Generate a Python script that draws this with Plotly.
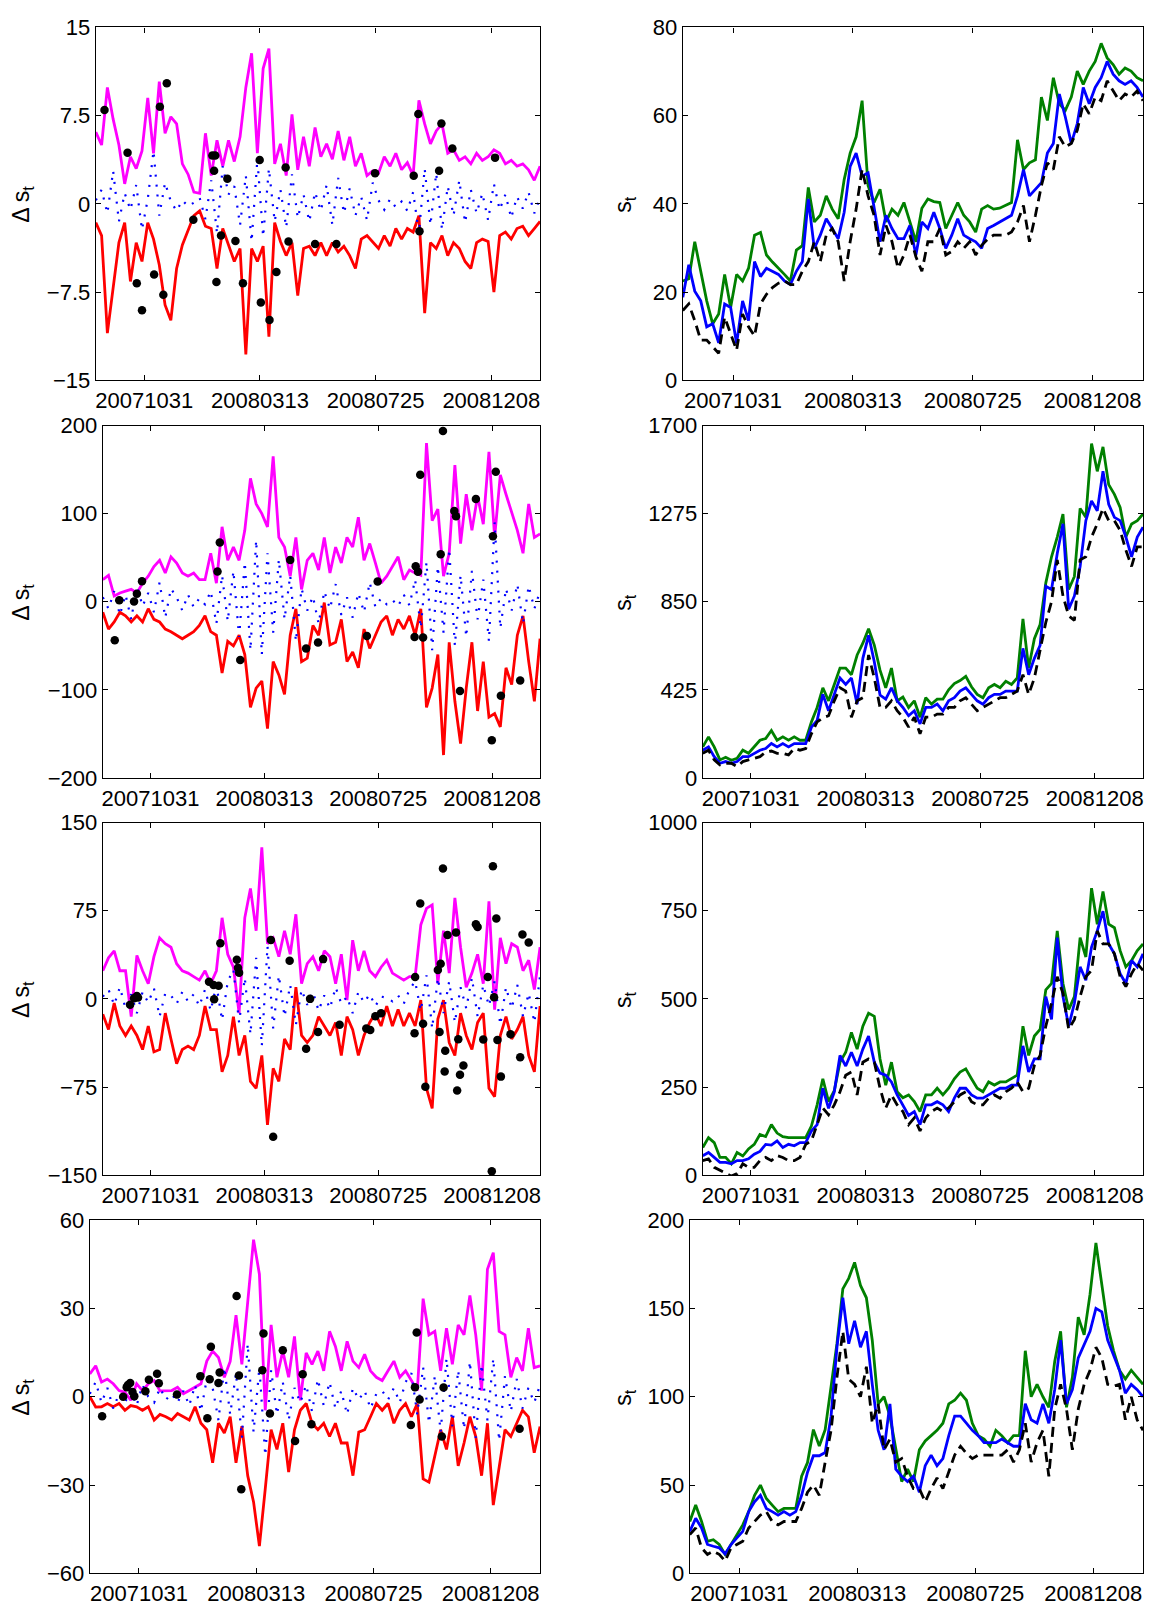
import plotly.graph_objects as go

W, H = 1149, 1616
N = 78
t = list(range(N))
tick_pos = [8.4, 28.45, 48.5, 68.55]
tick_labels = ["20071031", "20080313", "20080725", "20081208"]

# ---------------- Row 1 ----------------
u1 = [6.1, 5.0, 9.9, 7.2, 5.0, 1.7, 4.0, 3.0, 4.5, 9.0,
      4.3, 10.4, 6.0, 7.4, 6.8, 3.4, 2.5, 1.0, 0.9, 6.0,
      2.4, 5.4, 3.2, 5.4, 3.6, 5.7, 9.9, 12.8, 4.3, 11.5,
      13.2, 3.4, 5.1, 2.4, 7.6, 2.9, 5.7, 3.2, 6.5, 4.0,
      5.1, 3.8, 6.2, 3.7, 5.7, 3.2, 4.3, 2.4, 2.8, 2.6,
      4.0, 3.2, 4.3, 2.9, 3.5, 2.4, 8.8, 6.8, 5.1, 6.2,
      6.8, 4.3, 4.6, 3.7, 4.0, 3.4, 4.3, 3.7, 4.0, 4.6,
      4.3, 3.4, 3.7, 3.2, 3.4, 2.9, 2.0, 3.2]
l1 = [-1.6, -2.7, -11.0, -6.9, -3.3, -1.6, -6.6, -3.3, -4.9, -1.6,
      -3.0, -5.2, -8.6, -9.9, -5.5, -3.5, -2.2, -1.0, -0.6, -1.9,
      -2.1, -5.5, -2.1, -3.6, -4.9, -3.8, -12.8, -3.8, -4.9, -3.6,
      -11.3, -1.6, -3.2, -4.4, -3.3, -7.8, -3.8, -3.6, -4.4, -3.3,
      -4.4, -3.3, -4.1, -3.6, -4.4, -5.5, -3.0, -2.7, -3.3, -3.8,
      -2.7, -3.6, -2.1, -3.0, -2.1, -2.4, -1.0, -9.3, -3.3, -3.8,
      -2.7, -4.4, -3.3, -3.8, -4.9, -5.5, -3.3, -3.0, -3.2, -7.5,
      -2.7, -2.4, -3.0, -2.1, -1.9, -2.7, -2.1, -1.5]
m1 = [0.3, 1.2, -0.8, 2.8, -1.5, 0.9, -0.5, 1.6, -2.2, 0.4,
      4.5, -1.0, 1.8, 0.2, -0.6, 0.3, -0.2, 0.1, 0.5, -1.3,
      2.0, -2.5, 3.2, 0.8, 1.5, -1.8, 2.4, -3.2, 3.8, -2.8,
      3.0, -1.5, 1.2, -2.0, 2.5, -1.2, 0.8, -1.5, 1.0, -0.6,
      1.6, -1.8, 2.2, -0.8, 1.3, -1.0, 0.6, -1.4, 1.8, 0.3,
      -0.5, 0.4, -0.3, 0.2, -0.6, 1.0, -2.5, 3.0, -1.8, 2.6,
      -2.2, 1.5, -1.0, 2.0, -1.6, 1.2, -0.8, 0.9, -1.4, 1.7,
      -0.5, 0.8, -1.2, 0.6, -0.4, 1.0, -0.8, 0.5]
dx1 = [1.5, 5.5, 7.1, 8.0, 10.1, 11.1, 11.7, 12.3, 16.9, 20.2, 20.7, 20.5, 20.9, 21.7, 22.8,
       24.2, 25.5, 28.4, 28.6, 30.1, 31.3, 32.9, 33.4, 38.0, 41.7, 48.4, 55.1, 55.9, 56.1, 59.5,
       59.9, 61.8, 69.2]
dy1 = [7.98, 4.35, -6.75, -9.05, -6.0, 8.26, -7.73, 10.25, -1.36, 4.12, 4.12, 2.81, -6.64, -2.70, 2.14,
       -3.17, -6.75, 3.73, -8.40, -9.88, -5.80, 3.09, -3.20, -3.42, -3.42, 2.61, 2.39, 7.65, -2.34, 2.81,
       6.84, 4.71, 3.93]
g1 = [22.5, 23.0, 31.4, 24.7, 18.0, 12.8, 15.0, 24.0, 16.5, 24.0,
      22.5, 25.4, 32.9, 33.5, 28.4, 26.8, 25.5, 24.0, 22.5, 29.5,
      30.5, 43.7, 35.9, 37.4, 41.8, 38.8, 36.6, 45.5, 51.5, 55.2,
      63.4, 44.1, 40.3, 43.3, 35.9, 38.8, 37.4, 40.3, 35.9, 31.4,
      39.0, 41.1, 40.5, 40.3, 34.4, 37.4, 40.3, 37.4, 35.9, 33.6,
      38.8, 39.6, 38.8, 39.0, 39.6, 40.3, 54.5, 47.8, 49.3, 50.0,
      64.2, 58.9, 68.6, 62.7, 61.2, 64.2, 70.1, 67.1, 70.1, 72.3,
      76.4, 73.1, 71.6, 69.4, 70.8, 70.1, 68.6, 67.9]
b1 = [18.8, 26.2, 20.2, 18.0, 12.1, 12.8, 8.5, 17.3, 16.5, 8.3,
      18.0, 13.5, 26.9, 23.5, 25.4, 24.7, 24.0, 22.5, 21.7, 24.7,
      26.9, 41.1, 29.9, 32.9, 36.6, 34.4, 32.1, 38.1, 48.5, 51.5,
      46.3, 47.0, 38.8, 31.4, 37.4, 34.4, 32.1, 32.1, 35.1, 28.4,
      35.9, 34.4, 38.1, 34.4, 29.9, 32.9, 36.6, 32.9, 32.1, 31.4,
      29.9, 34.4, 35.1, 35.9, 36.6, 37.4, 41.8, 47.8, 41.8, 43.3,
      44.8, 51.5, 53.7, 64.9, 59.7, 53.7, 58.2, 66.4, 62.7, 66.4,
      68.6, 72.3, 69.4, 67.9, 67.1, 67.9, 66.4, 64.2]
k1 = [15.8, 17.3, 13.5, 9.1, 9.1, 7.6, 6.1, 14.3, 10.6, 6.8,
      15.0, 12.1, 10.0, 17.3, 19.5, 21.0, 22.0, 22.5, 21.7, 21.7,
      24.7, 26.9, 31.4, 26.9, 32.9, 34.4, 31.4, 22.5, 31.4, 38.8,
      47.8, 41.8, 37.4, 28.4, 35.1, 31.4, 25.4, 28.4, 32.9, 28.0,
      24.7, 31.4, 31.4, 34.4, 28.4, 29.2, 31.4, 29.9, 31.4, 28.4,
      30.6, 32.0, 32.9, 32.9, 32.9, 33.6, 35.9, 39.6, 31.4, 37.4,
      44.1, 49.3, 47.8, 55.2, 52.9, 53.7, 56.7, 62.7, 60.4, 64.2,
      63.4, 67.9, 65.6, 63.4, 64.9, 64.2, 65.6, 63.4]

# ---------------- Row 2 ----------------
u2 = [25, 30, 6.5, 10, 12, 14, 10, 21, 29, 40,
      47, 32.6, 51, 44, 32.6, 29, 32.6, 25, 25, 55,
      21, 85, 47, 62, 47, 81, 140, 111, 100, 85,
      165, 73, 62, 29, 73, 14, 47, 55, 36, 73,
      32.6, 62, 44, 73, 62, 96, 47, 66, 44, 21,
      29, 40, 51, 25, 36, 32.6, 30, 180, 92, 105,
      29, 55, 155, 66, 122, 81, 120, 88, 170, 73,
      144, 122, 100, 81, 55, 111, 73, 77]
l2 = [-12, -31, -23, -12, -16, -23, -16, -23, -8, -20,
      -23, -31, -34, -38, -42, -38, -34, -27, -16, -34,
      -38, -81, -45, -50, -38, -60, -120, -98, -90, -144,
      -68, -83, -105, -38, -8, -68, -64, -27, -38, -1,
      -49, -46, -20, -68, -57, -75, -31, -53, -38, -23,
      -16, -38, -20, -31, -16, -38, -8, -120, -98, -60,
      -174, -46, -113, -161, -98, -46, -124, -68, -131, -127,
      -142, -75, -94, -38, -16, -68, -113, -42]
m2 = [5, -8, 12, -15, 8, -20, 18, -5, 10, -12,
      22, -18, 15, 5, -10, 8, -6, 4, -3, 12,
      -25, 30, -22, 35, -40, 45, -55, 70, -60, 55,
      -35, 48, -20, 30, -45, 15, -10, 6, -25, 12,
      -8, 20, -15, 5, -18, 10, -12, 22, -6, 4,
      -3, 2, -5, 8, -4, 25, -30, 45, -55, 40,
      -35, 60, -50, 30, -40, 35, -20, 25, -45, 90,
      -30, 15, -10, 20, -25, 18, -8, 12]
dx2 = [2.1, 2.9, 5.5, 6.0, 6.9, 20.2, 20.6, 24.2, 33.0, 35.8, 37.9, 46.5, 48.4, 54.9, 55.1,
       55.5, 55.9, 56.4, 59.5, 59.9, 61.9, 62.2, 62.9, 65.7, 68.5, 68.7, 69.2, 70.1, 73.5]
dy2 = [-43.7, 1.7, 0.2, 9.1, 23.3, 34.4, 67.2, -66.0, 47.4, -53.0, -46.3, -38.9, 22.9, -40.0, 40.4,
       34.0, 144.2, -40.7, 53.8, 193.7, 102.9, 96.9, -101.4, 116.7, -157.2, 74.2, 147.5, -106.6, -89.5]
g2 = [150, 198, 150, 87, 100, 85, 95, 134, 119, 150,
      182, 190, 229, 182, 198, 182, 198, 182, 182, 270,
      340, 435, 372, 451, 530, 530, 498, 593, 650, 720,
      641, 520, 435, 530, 372, 390, 340, 372, 293, 387,
      356, 380, 380, 425, 455, 470, 490, 440, 403, 387,
      435, 451, 435, 466, 451, 482, 767, 530, 672, 740,
      941, 1067, 1162, 1273, 909, 972, 1300, 1257, 1613, 1479,
      1597, 1415, 1368, 1305, 1162, 1225, 1241, 1273]
b2 = [134, 150, 103, 71, 79, 71, 79, 103, 103, 119,
      134, 142, 166, 150, 166, 150, 166, 166, 166, 245,
      277, 403, 324, 403, 482, 451, 482, 356, 577, 688,
      561, 400, 380, 435, 372, 340, 300, 324, 261, 340,
      340, 356, 324, 372, 387, 419, 435, 403, 372, 356,
      387, 403, 403, 419, 419, 419, 625, 498, 577, 640,
      925, 909, 1083, 1226, 814, 878, 1020, 1241, 1336, 1289,
      1479, 1320, 1257, 1241, 1162, 1067, 1162, 1210]
k2 = [119, 134, 87, 63, 71, 71, 55, 79, 87, 95,
      103, 125, 130, 119, 119, 111, 142, 134, 142, 213,
      270, 290, 300, 372, 435, 419, 293, 372, 387, 593,
      482, 340, 340, 372, 324, 293, 245, 293, 213, 293,
      293, 308, 308, 340, 340, 372, 387, 356, 324, 340,
      356, 372, 387, 387, 403, 419, 498, 403, 482, 625,
      751, 850, 1052, 878, 782, 760, 1052, 1067, 1162, 1226,
      1300, 1241, 1241, 1194, 1099, 1020, 1115, 1115]

# ---------------- Row 3 ----------------
u3 = [24, 35, 41, 24, 24, -15, 37, 24, 13, 36,
      52, 47, 44, 30, 24, 22, 19, 16, 24, 13,
      24, 69, 38, 27, -12, 69, 94, 58, 129, 47,
      52, 36, 58, 38, 72, 13, 30, 36, 24, 41,
      36, 13, 38, -1, 50, 24, 41, 24, 19, 27,
      33, 22, 19, 16, 19, 19, 63, 77, 80, 13,
      58, 22, 86, 44, 10, 22, 38, 13, 83, -9,
      52, 30, 47, 44, 24, 33, 8, 44]
l3 = [-13, -26, -3.5, -23, -31, -23, -31, -43, -23, -45,
      -43, -12, -34, -55, -43, -40, -43, -31, -6, -26,
      -26, -62, -48, -15, -48, -31, -70, -76, -48, -107,
      -59, -70, -34, -43, 10, -31, -37, -31, -15, -23,
      -31, -20, -48, -15, -26, -48, -31, -20, -12, -23,
      -6, -23, -9, -23, -12, -23, -1, -76, -93, -17,
      -1, -37, -48, -12, -31, -43, -20, -12, -76, -83,
      -31, -15, -34, -26, -15, -48, -62, -6]
m3 = [2, 8, -5, 10, -8, 4, -12, 6, -3, 9,
      -15, 5, 3, -4, 6, -2, 4, -6, 8, -10,
      12, -18, 15, 25, -20, 18, -30, 35, -40, 45,
      -25, 20, -15, 12, -22, 8, -5, 6, -10, 3,
      -8, 10, -4, 2, -12, 6, -3, 4, -6, 2,
      1, -2, 3, -4, 8, 15, -10, 20, -25, 18,
      -12, 15, -20, 10, -8, 18, -15, 12, -6, 15,
      -22, 10, -8, 12, -15, 5, -20, 20]
dx3 = [4.8, 5.5, 6.0, 6.2, 18.7, 19.5, 19.6, 20.4, 20.7, 23.6, 23.8, 24.0, 29.6, 30.0, 32.9,
       35.8, 36.5, 37.9, 38.8, 41.7, 46.4, 47.1, 48.0, 49.0, 54.9, 55.0, 55.9, 56.4, 56.8, 59.0,
       59.5, 59.9, 59.3, 60.3, 60.2, 60.7, 62.2, 62.6, 62.9, 62.4, 63.5, 65.7, 66.0, 67.0, 67.8,
       68.5, 68.7, 68.9, 69.3, 69.5, 70.1, 71.8, 73.5, 73.9, 75.0]
dy3 = [-4.9, 0.7, 2.6, 1.2, 14.6, 11.8, -0.2, 11.3, 47.3, 33.3, 26.6, 22.4, 50.1, -117.1, 32.5,
       -42.3, 0.1, -28.1, 33.9, -21.9, -25.0, -26.4, -14.7, -12.2, -29.2, 18.8, 81.1, -21.1, -74.7, 24.7,
       30.0, 110.9, -28.1, -44.0, -61.6, 54.5, 56.5, -34.2, -64.4, -77.7, -56.5, 63.5, 61.2, -34.5, 18.8,
       -146.4, 112.9, 1.5, 68.5, -34.8, -66.0, -30.0, -49.6, 54.8, 48.1]
g3 = [79, 107, 93, 51, 51, 33, 65, 55, 75, 88,
      116, 110, 144, 120, 110, 107, 107, 107, 107, 140,
      200, 274, 209, 240, 321, 349, 405, 358, 423, 460,
      451, 330, 256, 321, 237, 220, 228, 209, 181, 228,
      228, 247, 228, 247, 274, 293, 302, 274, 247, 237,
      265, 256, 265, 265, 274, 284, 423, 340, 395, 414,
      526, 544, 693, 544, 470, 507, 674, 619, 814, 712,
      805, 712, 702, 637, 591, 609, 637, 656]
b3 = [56, 65, 51, 37, 37, 33, 42, 42, 47, 60,
      68, 88, 86, 98, 79, 88, 84, 93, 93, 126,
      144, 247, 190, 237, 340, 310, 349, 310, 358, 395,
      321, 290, 284, 265, 228, 200, 170, 181, 144, 200,
      200, 209, 200, 181, 219, 247, 247, 228, 219, 219,
      228, 237, 247, 247, 256, 256, 367, 293, 330, 330,
      507, 442, 674, 507, 423, 488, 591, 553, 647, 693,
      749, 656, 628, 572, 544, 609, 591, 628]
k3 = [42, 47, 23, 14, 5, -2, 5, 33, 23, 23,
      42, 51, 42, 56, 51, 42, 42, 51, 88, 98,
      144, 191, 172, 200, 237, 284, 293, 228, 321, 330,
      321, 247, 191, 228, 200, 181, 144, 163, 126, 163,
      181, 191, 181, 191, 209, 228, 237, 209, 200, 200,
      219, 228, 219, 237, 247, 265, 237, 247, 312, 340,
      423, 488, 563, 516, 414, 442, 507, 563, 581, 693,
      656, 656, 628, 563, 535, 572, 600, 581]

# ---------------- Row 4 ----------------
u4 = [7.7, 10.5, 5.0, 6.0, 4.4, 2.1, 1.5, -1.2, 4.4, 2.1,
      4.4, 5.5, 2.0, 2.1, 2.1, 3.2, 1.0, 2.1, 3.2, 4.4,
      12.1, 15.5, 13.3, 6.6, 12.0, 27.7, 11.0, 32.2, 53.3, 41.6,
      -4.6, 24.4, 6.6, 15.5, 6.6, 20.5, -1.2, 14.9, 11.0, 15.5,
      8.8, 22.2, 17.1, 8.8, 18.8, 12.1, 9.9, 14.4, 8.8, 6.6,
      5.5, 8.8, 12.1, 6.6, 8.8, 5.5, 2.1, 33.3, 21.0, 22.2,
      8.8, 23.3, 11.0, 24.4, 21.0, 34.4, 21.0, 2.1, 43.3, 48.9,
      22.2, 21.0, 6.6, 13.3, 8.8, 23.3, 9.9, 10.5]
l4 = [0, -3.5, -3.4, -2.3, -3.4, -2.3, -4.6, -3.0, -3.4, -4.6,
      -3.4, -7.9, -6.0, -6.8, -7.9, -5.7, -6.8, -7.9, -3.4, -9.0,
      -11.2, -22.4, -9.0, -12.3, -6.8, -22.4, -10.0, -26.8, -35.7, -50.7,
      -31.3, -11.2, -17.9, -9.0, -25.6, -11.2, -4.6, -2.3, -9.0, -11.2,
      -9.0, -13.5, -9.0, -15.7, -15.7, -26.8, -12.0, -11.2, -6.8, -2.3,
      -4.6, -2.3, -9.0, -4.6, -2.3, -6.8, -2.3, -27.9, -29.0, -20.1,
      -11.2, -17.9, -6.8, -23.5, -15.7, -6.8, -13.5, -26.8, -9.0, -36.8,
      -24.6, -11.2, -13.5, -9.0, -4.6, -6.8, -19.0, -10.1]
m4 = [1, 5, -2, 3, -4, 1, -2, 2, -3, 4,
      0, -2, 3, -1, 1, -2, 2, -3, 4, -5,
      6, 3, -8, 10, -6, 8, -14, 18, -12, 10,
      -20, 9, -6, 5, -8, 3, -2, 4, -5, 6,
      -3, 5, -4, 2, -6, 3, -1, 2, -4, 1,
      2, -1, 3, -2, 5, 8, -6, 10, -9, 7,
      -12, 13, -10, 9, -11, 12, -14, 11, -8, 13,
      -15, 7, -5, 6, -4, 3, -2, 4]
dx4 = [2.1, 5.7, 6.3, 6.5, 6.9, 7.3, 7.6, 9.5, 10.1, 11.5, 11.8, 14.9, 18.9, 20.1, 20.5,
       20.7, 22.0, 22.2, 25.1, 25.5, 25.9, 29.5, 29.7, 30.8, 33.0, 35.1, 36.4, 37.9, 54.9, 55.6,
       55.9, 56.4, 60.2, 60.5, 73.5]
dy4 = [-6.6, 0.0, 3.2, 4.0, 4.7, 1.6, 0.2, 1.9, 5.8, 7.8, 4.6, 0.8, 7.0, -7.3, 5.9,
       17.0, 4.7, 8.2, 34.2, 7.2, -31.4, 9.0, 21.5, -5.7, 15.8, -15.0, 7.6, -9.3, -9.6, 3.2,
       21.8, -0.9, -13.5, 3.1, -10.9]
g4 = [29.4, 38.7, 29.4, 18.2, 19.1, 16.4, 10.8, 16.4, 21.9, 27.5,
      35, 44.2, 50, 42.4, 38.7, 35, 36.8, 36.8, 36.8, 55,
      62.8, 81.4, 72.1, 81.4, 105, 130, 161, 167, 176, 163,
      156, 132, 96, 100, 89, 70, 52, 59, 52, 70,
      75, 78, 81, 85, 96, 98, 102, 98, 85, 78,
      76, 72, 81, 78, 74, 78, 78, 126, 100, 107,
      100, 94, 120, 137, 94, 111, 145, 135, 158, 187,
      163, 140, 126, 115, 110, 115, 111, 107]
b4 = [23.8, 31.2, 25.7, 16.4, 15.4, 14.5, 11.0, 16.4, 20.1, 23.8,
      35, 40.5, 44.2, 36.8, 35, 33, 35, 33, 35, 44.2,
      57.3, 66.6, 66.6, 68.4, 89, 128, 156, 130, 143, 128,
      137, 107, 81, 70, 96, 59, 55, 52, 55, 46,
      61, 67, 61, 65, 78, 89, 89, 85, 81, 78,
      74, 74, 74, 76, 74, 72, 72, 96, 87, 85,
      96, 85, 104, 132, 96, 104, 122, 130, 137, 150,
      148, 132, 124, 115, 102, 107, 104, 100]
k4 = [22, 25.7, 14.5, 10.8, 12.6, 10.8, 7, 14.5, 16.4, 18.2,
      25.7, 29.4, 33, 35, 29.4, 27.5, 29.4, 29.4, 29.4, 36.8,
      46, 50, 44.2, 63, 81, 111, 137, 110, 107, 100,
      117, 85, 96, 70, 76, 63, 65, 55, 48, 48,
      40.5, 48, 54, 48, 57, 67, 72, 68, 65, 67,
      67, 67, 67, 67, 70, 63, 70, 85, 63, 74,
      81, 55, 93, 107, 93, 70, 93, 107, 115, 128,
      122, 107, 106, 107, 87, 100, 87, 81]

left_ranges = [(-15, 15), (-200, 200), (-150, 150), (-60, 60)]
left_ticks = [[-15, -7.5, 0, 7.5, 15], [-200, -100, 0, 100, 200],
              [-150, -75, 0, 75, 150], [-60, -30, 0, 30, 60]]
right_ranges = [(0, 80), (0, 1700), (0, 1000), (0, 200)]
right_ticks = [[0, 20, 40, 60, 80], [0, 425, 850, 1275, 1700],
               [0, 250, 500, 750, 1000], [0, 50, 100, 150, 200]]

left_data = [(u1, l1, m1, dx1, dy1), (u2, l2, m2, dx2, dy2),
             (u3, l3, m3, dx3, dy3), (u4, l4, m4, dx4, dy4)]
right_data = [(g1, b1, k1), (g2, b2, k2), (g3, b3, k3), (g4, b4, k4)]

# layout geometry (pixels)
rows_px = [(15.7, 374), (420, 778), (823.3, 1181.7), (1227, 1586)]
left_l = [95, 102, 102, 89]
left_r = 540
right_l = [683, 703, 703, 690]
right_r = 1144

FONT = "Liberation Sans, Arial, Helvetica, sans-serif"
FS = 22


def fmt(v):
    s = "%g" % abs(v)
    return ("\u2212" if v < 0 else "") + s


fig = go.Figure()
layout = dict(width=W, height=H, margin=dict(l=0, r=0, t=0, b=0),
              paper_bgcolor="white", plot_bgcolor="white", showlegend=False,
              font=dict(family=FONT, size=FS, color="black"))
annotations = []


def axis_common():
    return dict(showline=True, linecolor="black", linewidth=1.3, mirror="ticks",
                ticks="inside", ticklen=5, tickwidth=1, tickcolor="black",
                showgrid=False, zeroline=False,
                tickfont=dict(family=FONT, size=FS, color="black"))


for r in range(4):
    top, bot = rows_px[r]
    ydom = [1 - bot / H, 1 - top / H]
    for c in range(2):
        n = 2 * r + c + 1
        sfx = "" if n == 1 else str(n)
        xa, ya = "x" + sfx, "y" + sfx
        if c == 0:
            xdom = [left_l[r] / W, left_r / W]
            yr, yt = left_ranges[r], left_ticks[r]
        else:
            xdom = [right_l[r] / W, right_r / W]
            yr, yt = right_ranges[r], right_ticks[r]
        xax = axis_common()
        xax.update(domain=xdom, range=[0, N - 1], tickvals=tick_pos,
                   ticktext=tick_labels, anchor=ya)
        yax = axis_common()
        yax.update(domain=ydom, range=list(yr), tickvals=yt,
                   ticktext=[fmt(v) for v in yt], anchor=xa)
        layout["xaxis" + sfx] = xax
        layout["yaxis" + sfx] = yax

        if c == 0:
            u, l, m, dx, dy = left_data[r]
            fig.add_trace(go.Scatter(x=t, y=u, mode="lines", xaxis=xa, yaxis=ya,
                                     line=dict(color="#FF00FF", width=2.8)))
            fig.add_trace(go.Scatter(x=t, y=l, mode="lines", xaxis=xa, yaxis=ya,
                                     line=dict(color="#FF0000", width=2.8)))
            fig.add_trace(go.Scatter(x=t, y=m, mode="lines", xaxis=xa, yaxis=ya,
                                     line=dict(color="#0000FF", width=2.2, dash="2px,8px")))
            fig.add_trace(go.Scatter(x=dx, y=dy, mode="markers", xaxis=xa, yaxis=ya,
                                     marker=dict(color="black", size=8.5)))
            title = "\u0394 s<sub>t</sub>"
            xt = 22 / W
        else:
            g, b, k = right_data[r]
            fig.add_trace(go.Scatter(x=t, y=g, mode="lines", xaxis=xa, yaxis=ya,
                                     line=dict(color="#008000", width=2.8)))
            fig.add_trace(go.Scatter(x=t, y=b, mode="lines", xaxis=xa, yaxis=ya,
                                     line=dict(color="#0000FF", width=2.8)))
            fig.add_trace(go.Scatter(x=t, y=k, mode="lines", xaxis=xa, yaxis=ya,
                                     line=dict(color="black", width=2.8, dash="10px,6px")))
            title = "s<sub>t</sub>"
            xt = 625 / W
        annotations.append(dict(text=title, x=xt, y=(ydom[0] + ydom[1]) / 2,
                                xref="paper", yref="paper", showarrow=False,
                                textangle=-90, xanchor="center", yanchor="middle",
                                font=dict(family=FONT, size=23, color="black")))

layout["annotations"] = annotations
fig.update_layout(**layout)
fig.write_html("out.html",
               config={"displayModeBar": False},
               post_script="document.body.style.margin='0';"
                           "document.body.style.overflow='hidden';")
